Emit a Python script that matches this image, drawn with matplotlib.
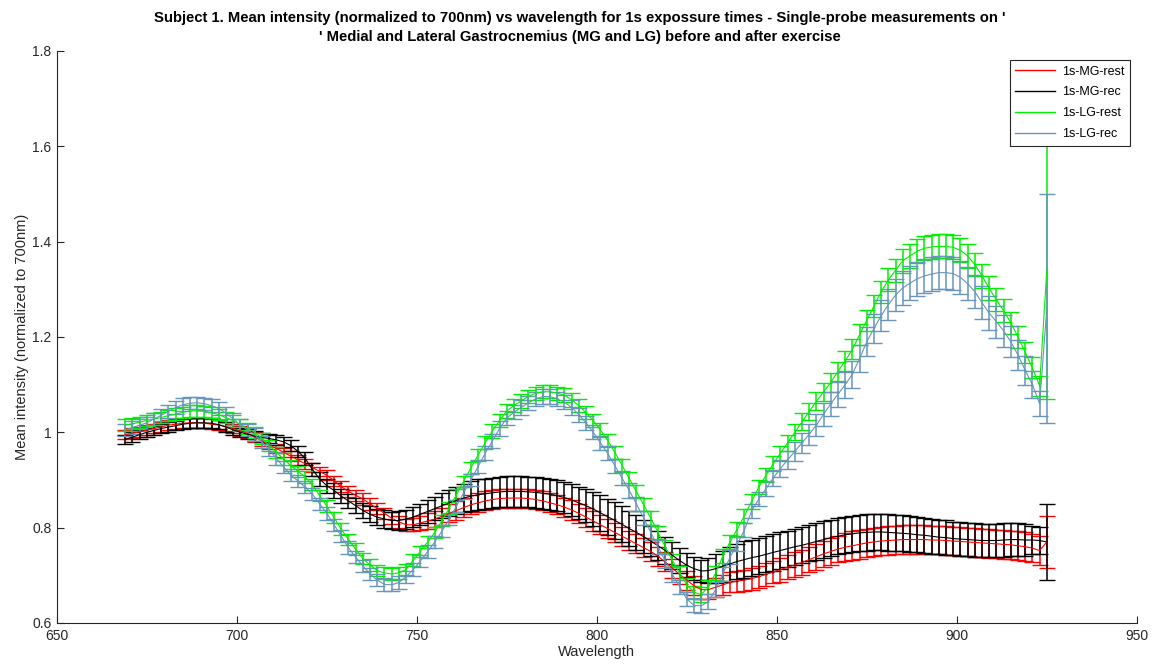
import numpy as np
import matplotlib
matplotlib.use("Agg")
import matplotlib.pyplot as plt
from matplotlib.lines import Line2D
from matplotlib.ticker import FormatStrFormatter

plt.rcParams['font.family'] = ['Liberation Sans', 'DejaVu Sans']

# wavelength grid (nm), 2 nm steps from 669 to 925
wavelength = np.arange(669, 926, 2)

labels = ["1s-MG-rest", "1s-MG-rec", "1s-LG-rest", "1s-LG-rec"]
colors = ["#ff0000", "#000000", "#00ee00", "#6795bb"]

mg_rest = [
    0.995, 0.998, 1.001, 1.005, 1.008, 1.011, 1.015, 1.017, 1.019, 1.020,
    1.020, 1.019, 1.017, 1.015, 1.012, 1.008, 1.003, 0.998, 0.990, 0.982,
    0.974, 0.966, 0.958, 0.950, 0.942, 0.934, 0.926, 0.918, 0.910, 0.898,
    0.886, 0.876, 0.868, 0.860, 0.850, 0.840, 0.830, 0.820, 0.812, 0.806,
    0.806, 0.810, 0.814, 0.818, 0.824, 0.830, 0.836, 0.842, 0.848, 0.852,
    0.856, 0.859, 0.861, 0.862, 0.862, 0.862, 0.861, 0.859, 0.856, 0.852,
    0.848, 0.843, 0.837, 0.830, 0.822, 0.814, 0.806, 0.798, 0.790, 0.782,
    0.774, 0.766, 0.758, 0.750, 0.740, 0.728, 0.715, 0.702, 0.690, 0.678,
    0.670, 0.670, 0.675, 0.680, 0.685, 0.688, 0.690, 0.693, 0.697, 0.702,
    0.707, 0.712, 0.717, 0.722, 0.727, 0.733, 0.739, 0.745, 0.750, 0.755,
    0.759, 0.762, 0.765, 0.768, 0.770, 0.772, 0.773, 0.774, 0.775, 0.775,
    0.775, 0.775, 0.774, 0.774, 0.773, 0.772, 0.771, 0.770, 0.769, 0.768,
    0.767, 0.766, 0.765, 0.764, 0.762, 0.760, 0.757, 0.752, 0.770,
]
mg_rest_err = [
    0.010, 0.010, 0.010, 0.010, 0.010, 0.010, 0.010, 0.010, 0.010, 0.010,
    0.010, 0.010, 0.010, 0.010, 0.010, 0.010, 0.010, 0.010, 0.010, 0.010,
    0.010, 0.010, 0.010, 0.010, 0.010, 0.010, 0.010, 0.010, 0.010, 0.010,
    0.012, 0.012, 0.012, 0.012, 0.012, 0.012, 0.012, 0.012, 0.012, 0.012,
    0.014, 0.015, 0.016, 0.017, 0.018, 0.019, 0.020, 0.020, 0.020, 0.020,
    0.020, 0.020, 0.020, 0.020, 0.020, 0.020, 0.020, 0.020, 0.020, 0.020,
    0.020, 0.020, 0.020, 0.020, 0.020, 0.020, 0.020, 0.020, 0.020, 0.020,
    0.020, 0.020, 0.020, 0.020, 0.020, 0.020, 0.020, 0.020, 0.020, 0.020,
    0.020, 0.020, 0.020, 0.021, 0.021, 0.022, 0.022, 0.023, 0.023, 0.024,
    0.024, 0.025, 0.025, 0.026, 0.026, 0.027, 0.027, 0.028, 0.028, 0.028,
    0.030, 0.030, 0.030, 0.030, 0.030, 0.030, 0.030, 0.030, 0.030, 0.030,
    0.030, 0.030, 0.030, 0.030, 0.030, 0.030, 0.030, 0.030, 0.030, 0.030,
    0.030, 0.030, 0.030, 0.030, 0.030, 0.030, 0.030, 0.030, 0.055,
]

mg_rec = [
    0.985, 0.990, 0.995, 1.000, 1.004, 1.008, 1.011, 1.014, 1.017, 1.019,
    1.020, 1.020, 1.019, 1.016, 1.011, 1.005, 1.000, 0.996, 0.992, 0.989,
    0.987, 0.984, 0.980, 0.972, 0.960, 0.945, 0.922, 0.902, 0.888, 0.878,
    0.866, 0.856, 0.846, 0.836, 0.828, 0.822, 0.818, 0.815, 0.815, 0.818,
    0.822, 0.828, 0.834, 0.840, 0.846, 0.852, 0.857, 0.862, 0.866, 0.869,
    0.871, 0.873, 0.875, 0.876, 0.876, 0.876, 0.875, 0.874, 0.872, 0.870,
    0.867, 0.863, 0.858, 0.852, 0.846, 0.839, 0.831, 0.823, 0.815, 0.807,
    0.798, 0.790, 0.781, 0.772, 0.762, 0.752, 0.742, 0.731, 0.721, 0.714,
    0.709, 0.710, 0.714, 0.719, 0.724, 0.729, 0.733, 0.737, 0.740, 0.744,
    0.748, 0.752, 0.756, 0.760, 0.763, 0.767, 0.771, 0.775, 0.779, 0.782,
    0.785, 0.787, 0.789, 0.790, 0.791, 0.791, 0.790, 0.789, 0.788, 0.787,
    0.785, 0.784, 0.782, 0.780, 0.779, 0.777, 0.776, 0.775, 0.774, 0.773,
    0.773, 0.773, 0.774, 0.775, 0.775, 0.774, 0.774, 0.773, 0.770,
]
mg_rec_err = [
    0.010, 0.010, 0.010, 0.010, 0.010, 0.010, 0.010, 0.010, 0.010, 0.010,
    0.010, 0.010, 0.010, 0.010, 0.010, 0.010, 0.010, 0.010, 0.010, 0.010,
    0.010, 0.010, 0.010, 0.011, 0.012, 0.013, 0.014, 0.014, 0.015, 0.015,
    0.015, 0.015, 0.016, 0.016, 0.017, 0.017, 0.018, 0.018, 0.019, 0.020,
    0.021, 0.022, 0.024, 0.025, 0.026, 0.028, 0.029, 0.030, 0.031, 0.032,
    0.032, 0.032, 0.032, 0.032, 0.032, 0.032, 0.032, 0.032, 0.032, 0.032,
    0.033, 0.033, 0.034, 0.034, 0.035, 0.036, 0.037, 0.038, 0.038, 0.038,
    0.037, 0.036, 0.034, 0.032, 0.030, 0.029, 0.028, 0.026, 0.025, 0.024,
    0.024, 0.026, 0.030, 0.033, 0.036, 0.037, 0.038, 0.038, 0.038, 0.038,
    0.038, 0.038, 0.038, 0.038, 0.038, 0.038, 0.038, 0.038, 0.038, 0.038,
    0.038, 0.038, 0.038, 0.038, 0.038, 0.038, 0.038, 0.038, 0.038, 0.038,
    0.037, 0.037, 0.037, 0.036, 0.036, 0.035, 0.035, 0.035, 0.035, 0.035,
    0.035, 0.035, 0.035, 0.035, 0.034, 0.033, 0.030, 0.028, 0.080,
]

lg_rest = [
    1.015, 1.018, 1.021, 1.025, 1.028, 1.031, 1.035, 1.038, 1.042, 1.045,
    1.045, 1.044, 1.041, 1.037, 1.031, 1.024, 1.016, 1.008, 1.000, 0.987,
    0.972, 0.958, 0.944, 0.930, 0.918, 0.906, 0.890, 0.867, 0.845, 0.821,
    0.797, 0.775, 0.755, 0.735, 0.722, 0.710, 0.705, 0.703, 0.705, 0.712,
    0.732, 0.750, 0.770, 0.790, 0.815, 0.841, 0.869, 0.897, 0.925, 0.952,
    0.978, 1.003, 1.025, 1.045, 1.056, 1.066, 1.075, 1.082, 1.085, 1.085,
    1.082, 1.078, 1.068, 1.056, 1.041, 1.025, 1.005, 0.983, 0.958, 0.931,
    0.903, 0.876, 0.848, 0.820, 0.790, 0.760, 0.731, 0.705, 0.680, 0.664,
    0.660, 0.675, 0.705, 0.740, 0.770, 0.797, 0.825, 0.855, 0.885, 0.910,
    0.934, 0.956, 0.978, 1.000, 1.022, 1.044, 1.065, 1.085, 1.105, 1.128,
    1.150, 1.174, 1.205, 1.235, 1.265, 1.295, 1.320, 1.340, 1.360, 1.370,
    1.380, 1.386, 1.389, 1.390, 1.390, 1.388, 1.382, 1.370, 1.352, 1.328,
    1.302, 1.278, 1.255, 1.230, 1.200, 1.168, 1.135, 1.098, 1.340,
]
lg_rest_err = [
    0.012, 0.012, 0.012, 0.012, 0.012, 0.012, 0.012, 0.012, 0.012, 0.012,
    0.012, 0.012, 0.012, 0.012, 0.012, 0.012, 0.012, 0.012, 0.012, 0.012,
    0.012, 0.012, 0.012, 0.012, 0.012, 0.012, 0.012, 0.012, 0.012, 0.012,
    0.012, 0.012, 0.012, 0.012, 0.012, 0.012, 0.012, 0.012, 0.012, 0.012,
    0.012, 0.012, 0.012, 0.012, 0.012, 0.012, 0.012, 0.012, 0.012, 0.012,
    0.014, 0.014, 0.014, 0.014, 0.014, 0.014, 0.014, 0.014, 0.014, 0.014,
    0.014, 0.014, 0.014, 0.014, 0.014, 0.014, 0.014, 0.014, 0.014, 0.014,
    0.014, 0.014, 0.014, 0.014, 0.014, 0.014, 0.014, 0.014, 0.014, 0.014,
    0.015, 0.015, 0.015, 0.015, 0.015, 0.015, 0.015, 0.015, 0.015, 0.015,
    0.016, 0.016, 0.017, 0.017, 0.018, 0.018, 0.019, 0.019, 0.020, 0.020,
    0.021, 0.021, 0.022, 0.022, 0.023, 0.023, 0.024, 0.024, 0.025, 0.025,
    0.025, 0.025, 0.025, 0.025, 0.025, 0.025, 0.025, 0.025, 0.025, 0.025,
    0.025, 0.024, 0.024, 0.023, 0.023, 0.022, 0.022, 0.021, 0.270,
]

lg_rec = [
    1.005, 1.010, 1.015, 1.020, 1.028, 1.036, 1.044, 1.052, 1.058, 1.061,
    1.062, 1.060, 1.056, 1.050, 1.040, 1.028, 1.015, 1.005, 0.995, 0.980,
    0.963, 0.945, 0.927, 0.910, 0.898, 0.885, 0.870, 0.850, 0.830, 0.806,
    0.782, 0.758, 0.738, 0.720, 0.703, 0.690, 0.681, 0.680, 0.685, 0.697,
    0.712, 0.730, 0.750, 0.770, 0.793, 0.818, 0.845, 0.873, 0.900, 0.928,
    0.956, 0.982, 1.008, 1.030, 1.042, 1.052, 1.062, 1.070, 1.075, 1.075,
    1.070, 1.063, 1.052, 1.037, 1.020, 1.000, 0.978, 0.956, 0.930, 0.904,
    0.878, 0.850, 0.820, 0.790, 0.760, 0.730, 0.702, 0.676, 0.650, 0.637,
    0.636, 0.645, 0.670, 0.703, 0.738, 0.765, 0.795, 0.835, 0.860, 0.882,
    0.904, 0.924, 0.942, 0.960, 0.978, 0.996, 1.015, 1.038, 1.060, 1.080,
    1.100, 1.122, 1.155, 1.190, 1.218, 1.245, 1.268, 1.288, 1.303, 1.313,
    1.322, 1.328, 1.332, 1.335, 1.335, 1.333, 1.325, 1.312, 1.295, 1.272,
    1.250, 1.232, 1.213, 1.190, 1.162, 1.130, 1.100, 1.060, 1.260,
]
lg_rec_err = [
    0.013, 0.013, 0.013, 0.013, 0.013, 0.013, 0.013, 0.013, 0.013, 0.013,
    0.013, 0.013, 0.013, 0.013, 0.013, 0.013, 0.013, 0.013, 0.013, 0.013,
    0.013, 0.013, 0.013, 0.013, 0.013, 0.013, 0.013, 0.013, 0.013, 0.013,
    0.013, 0.013, 0.013, 0.013, 0.013, 0.013, 0.013, 0.013, 0.013, 0.013,
    0.013, 0.013, 0.013, 0.013, 0.013, 0.013, 0.013, 0.013, 0.013, 0.013,
    0.015, 0.015, 0.015, 0.015, 0.015, 0.015, 0.015, 0.015, 0.015, 0.015,
    0.015, 0.015, 0.015, 0.015, 0.015, 0.015, 0.015, 0.015, 0.015, 0.015,
    0.015, 0.015, 0.015, 0.015, 0.015, 0.015, 0.015, 0.015, 0.015, 0.015,
    0.015, 0.015, 0.015, 0.015, 0.015, 0.015, 0.015, 0.015, 0.015, 0.015,
    0.017, 0.018, 0.019, 0.020, 0.021, 0.022, 0.023, 0.024, 0.025, 0.026,
    0.027, 0.028, 0.029, 0.030, 0.031, 0.032, 0.033, 0.034, 0.035, 0.035,
    0.035, 0.035, 0.035, 0.035, 0.035, 0.035, 0.035, 0.035, 0.035, 0.035,
    0.035, 0.034, 0.033, 0.032, 0.031, 0.030, 0.028, 0.026, 0.240,
]

means = [mg_rest, mg_rec, lg_rest, lg_rec]
errs = [mg_rest_err, mg_rec_err, lg_rest_err, lg_rec_err]

fig = plt.figure(figsize=(11.6, 6.68), dpi=100)
ax = fig.add_axes([0.049, 0.0674, 0.931, 0.8563])

for y, e, c in zip(means, errs, colors):
    ax.errorbar(wavelength, y, yerr=e, color=c, ecolor=c, linewidth=0.8,
                elinewidth=1.1, capsize=6, capthick=1.0)

ax.set_xlim(650, 950)
ax.set_ylim(0.6, 1.8)
ax.set_xticks(np.arange(650, 951, 50))
ax.set_yticks(np.arange(0.6, 1.81, 0.2))
ax.yaxis.set_major_formatter(FormatStrFormatter('%g'))
ax.tick_params(direction='in', length=5, width=0.8, colors='#262626',
               labelsize=10, pad=4)
for s in ['top', 'right']:
    ax.spines[s].set_visible(False)
for s in ['left', 'bottom']:
    ax.spines[s].set_color('#262626')
    ax.spines[s].set_linewidth(0.8)

ax.set_xlabel("Wavelength", fontsize=10.5, color='#262626', labelpad=2)
ax.set_ylabel("Mean intensity (normalized to 700nm)", fontsize=10.5,
              color='#262626', labelpad=2)
# title is centred on the figure, not on the axes
ax.set_title("Subject 1. Mean intensity (normalized to 700nm) vs wavelength for 1s expossure times - "
             "Single-probe measurements on '\n' Medial and Lateral Gastrocnemius (MG and LG) "
             "before and after exercise", fontsize=10.7, fontweight='bold', pad=7,
             linespacing=1.45, x=0.484)

handles = [Line2D([0], [0], color=c, linewidth=1) for c in colors]
leg = ax.legend(handles, labels, loc='upper right', bbox_to_anchor=(0.9935, 0.984),
                borderaxespad=0, fontsize=9, fancybox=False, framealpha=1,
                edgecolor='#262626', handlelength=3.2, handletextpad=0.5,
                borderpad=0.45, labelspacing=0.7)
leg.get_frame().set_linewidth(0.8)

fig.savefig("out.png", dpi=100)
